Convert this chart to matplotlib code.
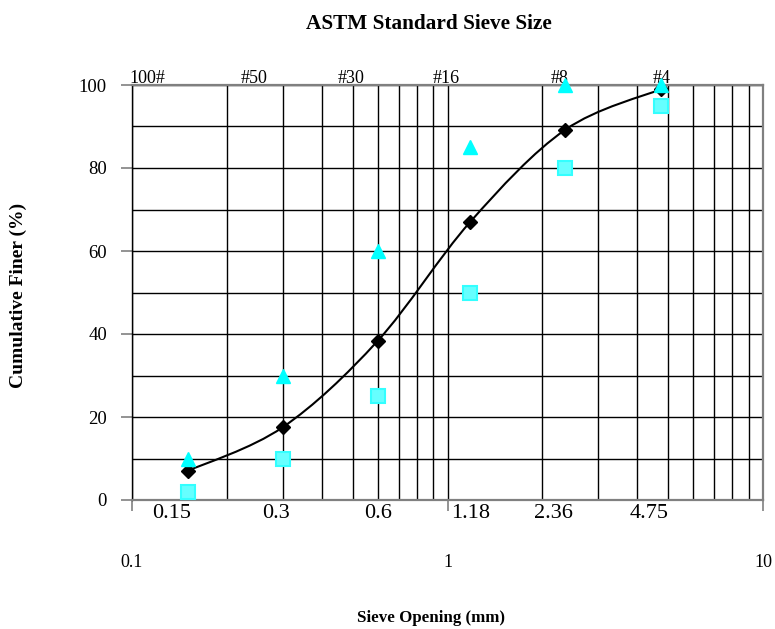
import matplotlib
matplotlib.use("Agg")
import matplotlib.pyplot as plt
from matplotlib.path import Path
from matplotlib.patches import PathPatch
from matplotlib.ticker import LogLocator, FixedLocator, NullFormatter
import numpy as np

# sieve data (mm) and percent finer
sieve_mm = [0.15, 0.3, 0.6, 1.18, 2.36, 4.75]
sieve_no = ["100#", "#50", "#30", "#16", "#8", "#4"]
sieve_txt = ["0.15", "0.3", "0.6", "1.18", "2.36", "4.75"]
mean_finer = [7, 17.5, 38.3, 67, 89.2, 99]
upper_finer = [10, 30, 60, 85, 100, 100]
lower_finer = [2, 10, 25, 50, 80, 95]

plt.rcParams['font.family'] = ['Liberation Serif', 'DejaVu Serif']

fig = plt.figure(figsize=(7.75, 6.29), dpi=100)
ax = fig.add_axes([132/775, 1 - 500/629, 631/775, 415/629])
ax.set_xscale('log')
ax.set_xlim(0.1, 10)
ax.set_ylim(0, 100)

# grid
ax.xaxis.set_minor_locator(LogLocator(base=10, subs=np.arange(2, 10)))
ax.xaxis.set_minor_formatter(NullFormatter())
ax.set_xticks([0.1, 1, 10])
ax.set_xticklabels(["0.1", "1", "10"])
ax.set_yticks([0, 20, 40, 60, 80, 100])
ax.yaxis.set_minor_locator(FixedLocator([10, 30, 50, 70, 90]))
ax.grid(True, which='both', color='black', linewidth=1.0)
ax.set_axisbelow(True)

ax.tick_params(axis='x', which='major', direction='out', length=8, width=1.2,
               color='#808080', pad=31, labelsize=13)
ax.tick_params(axis='x', which='minor', length=0)
ax.tick_params(axis='y', which='major', direction='out', length=8, width=1.2,
               color='#808080', pad=10, labelsize=13.5)
ax.tick_params(axis='y', which='minor', length=0)

for s in ['top', 'right', 'bottom']:
    ax.spines[s].set_color('#808080')
    ax.spines[s].set_linewidth(1.6)
ax.spines['left'].set_color('black')
ax.spines['left'].set_linewidth(1.0)

# smoothed mean curve (bezier through points, in log-x space)
lx = np.log10(sieve_mm)
yy = np.array(mean_finer, dtype=float)
pts = np.column_stack([lx, yy])
verts = [pts[0]]
codes = [Path.MOVETO]
n = len(pts)
for i in range(n - 1):
    p0 = pts[i - 1] if i > 0 else pts[i]
    p3 = pts[i + 2] if i + 2 < n else pts[i + 1]
    c1 = pts[i] + (pts[i + 1] - p0) / 6
    c2 = pts[i + 1] - (p3 - pts[i]) / 6
    verts += [c1, c2, pts[i + 1]]
    codes += [Path.CURVE4] * 3
verts = np.array(verts)
verts[:, 0] = 10 ** verts[:, 0]
ax.add_patch(PathPatch(Path(verts, codes), facecolor='none', edgecolor='black',
                       linewidth=1.5, zorder=3))

ax.plot(sieve_mm, mean_finer, linestyle='none', marker='D', color='black',
        markersize=7.5, zorder=4)
ax.plot(sieve_mm, lower_finer, linestyle='none', marker='s', markerfacecolor='#66FFFF',
        markeredgecolor='#33FFFF', markeredgewidth=1.5, markersize=9.5, zorder=5)
ax.plot(sieve_mm, upper_finer, linestyle='none', marker='^', color='#00FFFF',
        markersize=10, zorder=6, clip_on=False)

# sieve opening labels under the axis and sieve numbers over it
low_off = [-16, -7, 1, 0, -12, -12]
top_off = [-40, -28, -26, -24, -6, 1]
for x, t, dx in zip(sieve_mm, sieve_txt, low_off):
    ax.annotate(t, xy=(x, 0), xycoords=('data', 'axes fraction'),
                xytext=(dx, -14), textcoords='offset pixels',
                ha='center', va='center', fontsize=16)
for x, t, dx in zip(sieve_mm, sieve_no, top_off):
    ax.annotate(t, xy=(x, 1), xycoords=('data', 'axes fraction'),
                xytext=(dx, 2), textcoords='offset pixels',
                ha='center', va='baseline', fontsize=13)

fig.text(429/775, 1 - 24/629, "ASTM Standard Sieve Size", ha='center', va='center',
         fontsize=15.3, fontweight='bold')
fig.text(431/775, 1 - 618/629, "Sieve Opening (mm)", ha='center', va='center',
         fontsize=12.2, fontweight='bold')
fig.text(18/775, 1 - 295/629, "Cumulative Finer (%)", ha='center', va='center',
         rotation=90, fontsize=14, fontweight='bold')

fig.savefig("out.png", dpi=100)
